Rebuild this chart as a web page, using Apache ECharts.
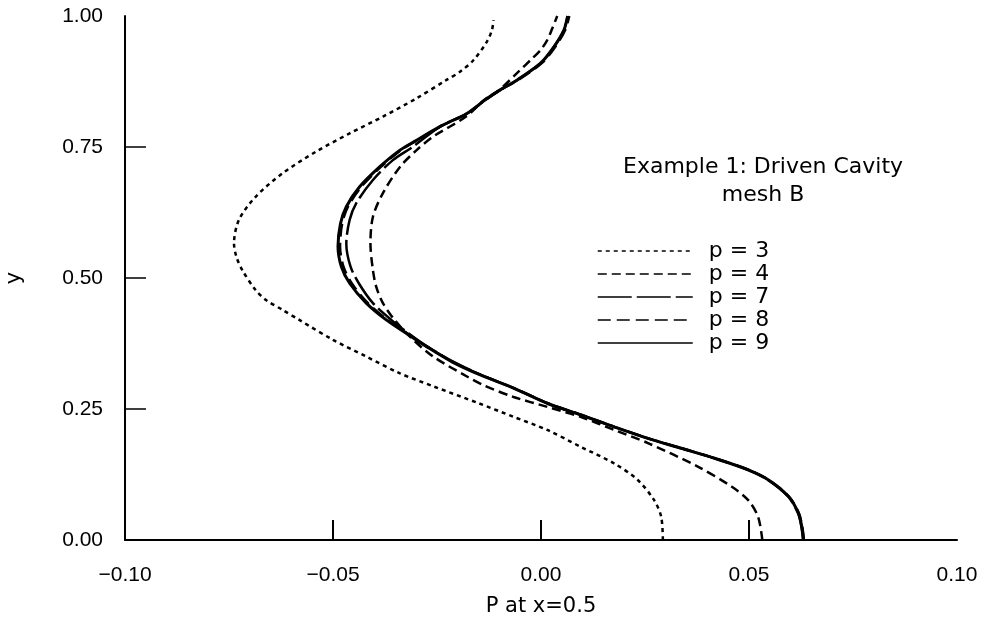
<!DOCTYPE html>
<html>
<head>
<meta charset="utf-8">
<script src="https://cdn.jsdelivr.net/npm/echarts@6/dist/echarts.min.js"></script>
<style>
  html, body { margin: 0; padding: 0; background: #fff; }
  #chart { width: 985px; height: 620px; }
</style>
</head>
<body>
<div id="chart"></div>
<script>
// pressure P at x=0.5 (x) against height y
const yP3 = [0, 0.044, 0.076, 0.115, 0.146, 0.178, 0.210, 0.235, 0.261, 0.293, 0.318, 0.350, 0.382, 0.420, 0.439, 0.458, 0.477, 0.515, 0.540, 0.566, 0.611, 0.655, 0.700, 0.741, 0.776, 0.808, 0.843, 0.878, 0.894, 0.916, 0.951, 0.973, 0.992]
const xP3 = [0.0293, 0.0289, 0.0272, 0.0232, 0.0176, 0.0095, 0.0015, -0.0066, -0.0150, -0.0258, -0.0339, -0.0420, -0.0500, -0.0581, -0.0621, -0.0661, -0.0686, -0.0718, -0.0732, -0.0738, -0.0726, -0.0686, -0.0621, -0.0541, -0.0460, -0.0380, -0.0299, -0.0227, -0.0194, -0.0162, -0.0130, -0.0118, -0.0114]

const yP4 = [0, 0.044, 0.076, 0.102, 0.140, 0.185, 0.210, 0.235, 0.254, 0.273, 0.296, 0.312, 0.350, 0.388, 0.420, 0.452, 0.483, 0.515, 0.566, 0.617, 0.662, 0.712, 0.744, 0.770, 0.808, 0.840, 0.859, 0.894, 0.916, 0.935, 0.954, 0.976, 1.0]
const xP4 = [0.0532, 0.0522, 0.0498, 0.0458, 0.0377, 0.0257, 0.0176, 0.0095, 0.0015, -0.0066, -0.0140, -0.0178, -0.0259, -0.0315, -0.0352, -0.0380, -0.0396, -0.0404, -0.0410, -0.0404, -0.0380, -0.0339, -0.0299, -0.0259, -0.0180, -0.0136, -0.0100, -0.0054, -0.0025, -0.0001, 0.0015, 0.0027, 0.0039]

const yP7 = [0, 0.025, 0.051, 0.083, 0.115, 0.134, 0.156, 0.175, 0.194, 0.216, 0.239, 0.261, 0.290, 0.315, 0.340, 0.369, 0.394, 0.420, 0.452, 0.490, 0.522, 0.566, 0.611, 0.643, 0.687, 0.725, 0.751, 0.789, 0.814, 0.840, 0.859, 0.878, 0.910, 0.941, 0.973, 1.0]
const xP7 = [0.0630, 0.0626, 0.0618, 0.0594, 0.0545, 0.0497, 0.0417, 0.0337, 0.0257, 0.0176, 0.0095, 0.0015, -0.0066, -0.0144, -0.0210, -0.0273, -0.0318, -0.0360, -0.0404, -0.0438, -0.0458, -0.0468, -0.0460, -0.0444, -0.0404, -0.0356, -0.0307, -0.0243, -0.0178, -0.0134, -0.0098, -0.0057, -0.0001, 0.0031, 0.0055, 0.0064]

const yP8 = [0, 0.025, 0.051, 0.083, 0.115, 0.134, 0.156, 0.175, 0.194, 0.216, 0.239, 0.261, 0.290, 0.315, 0.340, 0.369, 0.394, 0.420, 0.452, 0.490, 0.522, 0.560, 0.604, 0.636, 0.674, 0.712, 0.744, 0.763, 0.789, 0.814, 0.840, 0.859, 0.878, 0.910, 0.941, 0.973, 1.0]
const xP8 = [0.0632, 0.0628, 0.0620, 0.0596, 0.0547, 0.0499, 0.0418, 0.0338, 0.0258, 0.0177, 0.0096, 0.0016, -0.0065, -0.0145, -0.0212, -0.0274, -0.0321, -0.0369, -0.0416, -0.0455, -0.0475, -0.0483, -0.0478, -0.0464, -0.0432, -0.0385, -0.0337, -0.0298, -0.0242, -0.0177, -0.0133, -0.0097, -0.0055, 0.0002, 0.0034, 0.0058, 0.0068]

const yP9 = [0, 0.025, 0.051, 0.083, 0.115, 0.134, 0.156, 0.175, 0.194, 0.216, 0.239, 0.261, 0.290, 0.315, 0.340, 0.369, 0.394, 0.420, 0.452, 0.490, 0.522, 0.560, 0.604, 0.636, 0.674, 0.712, 0.744, 0.763, 0.789, 0.814, 0.840, 0.859, 0.878, 0.910, 0.941, 0.973, 1.0]
const xP9 = [0.0631, 0.0627, 0.0619, 0.0595, 0.0546, 0.0498, 0.0417, 0.0337, 0.0257, 0.0176, 0.0095, 0.0015, -0.0066, -0.0146, -0.0214, -0.0275, -0.0323, -0.0372, -0.0420, -0.0460, -0.0480, -0.0488, -0.0482, -0.0468, -0.0436, -0.0388, -0.0339, -0.0299, -0.0243, -0.0178, -0.0134, -0.0098, -0.0057, -0.0001, 0.0031, 0.0055, 0.0064]

const seriesNames = ['p = 3', 'p = 4', 'p = 7', 'p = 8', 'p = 9']
const xTicks = [-0.05, 0, 0.05]
const yTicks = [0.25, 0.5, 0.75]

const FONT = 'DejaVu Sans'
const TICK_FONT = 'Liberation Sans'
const pairs = (xs, ys) => xs.map((x, i) => [x, ys[i]])
const fmt = v => (v < 0 ? '\u2212' : '') + Math.abs(v).toFixed(2)

const curves = [
  { data: pairs(xP3, yP3), dash: [4, 4], width: 2.5 },
  { data: pairs(xP4, yP4), dash: [9, 5], width: 2.5 },
  { data: pairs(xP7, yP7), dash: [34, 5], width: 2.5 },
  { data: pairs(xP8, yP8), dash: [13, 6], width: 2.5 },
  { data: pairs(xP9, yP9), dash: 'solid', width: 3 },
]

const chart = echarts.init(document.getElementById('chart'), null, { renderer: 'canvas' })
chart.setOption({
  animation: false,
  backgroundColor: '#fff',
  textStyle: { fontFamily: FONT, color: '#000' },
  title: {
    text: 'Example 1: Driven Cavity\nmesh B',
    left: 763, top: 153, padding: 0, textAlign: 'center',
    textStyle: { fontFamily: FONT, fontSize: 22, fontWeight: 'normal', color: '#000', lineHeight: 28 },
  },
  legend: {
    orient: 'vertical', left: 597, top: 240, padding: 0,
    itemWidth: 95, itemHeight: 10, itemGap: 1,
    data: seriesNames,
    itemStyle: { color: 'rgba(0,0,0,0)', borderWidth: 0, opacity: 0 },
    lineStyle: { width: 1.5 },
    textStyle: { fontFamily: FONT, fontSize: 22, color: '#000', lineHeight: 20, padding: [0, 0, 0, 11] },
  },
  grid: { left: 125, right: 28, top: 16, bottom: 80, outerBoundsMode: 'none', containLabel: false },
  xAxis: {
    type: 'value', min: -0.1, max: 0.1, interval: 0.05,
    name: 'P at x=0.5', nameLocation: 'middle', nameGap: 56,
    nameTextStyle: { fontFamily: FONT, fontSize: 21, color: '#000' },
    axisLine: { onZero: false, lineStyle: { color: '#000', width: 2 } },
    axisTick: { inside: true, length: 20, customValues: xTicks, lineStyle: { color: '#000', width: 2 } },
    axisLabel: { margin: 25, fontFamily: TICK_FONT, fontSize: 21, color: '#000', formatter: fmt },
    splitLine: { show: false },
  },
  yAxis: {
    type: 'value', min: 0, max: 1, interval: 0.25,
    name: 'y', nameLocation: 'middle', nameGap: 100, nameRotate: 90,
    nameTextStyle: { fontFamily: FONT, fontSize: 21, color: '#000' },
    axisLine: { onZero: false, lineStyle: { color: '#000', width: 2 } },
    axisTick: { inside: true, length: 21, customValues: yTicks, lineStyle: { color: '#000', width: 1.5 } },
    axisLabel: { margin: 22, fontFamily: TICK_FONT, fontSize: 21, color: '#000', formatter: fmt },
    splitLine: { show: false },
  },
  series: curves.map((c, i) => ({
    name: seriesNames[i],
    type: 'line',
    data: c.data,
    symbol: 'none',
    smooth: 0.3,
    color: '#000',
    lineStyle: { color: '#000', width: c.width, type: c.dash },
  })),
})
</script>
</body>
</html>
